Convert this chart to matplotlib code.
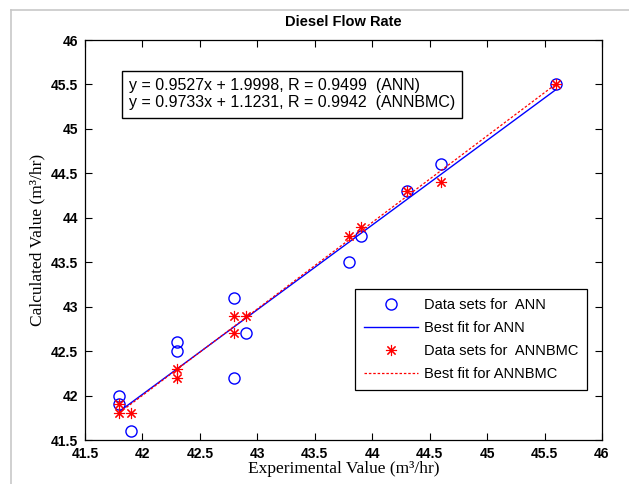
import matplotlib
matplotlib.use("Agg")
import matplotlib.pyplot as plt
from matplotlib.lines import Line2D
import numpy as np

# Experimental vs. calculated diesel flow rate (m^3/hr)
ann_exp = [41.8, 41.8, 41.9, 42.3, 42.3, 42.8, 42.8, 42.9, 43.8, 43.9, 44.3, 44.6, 45.6]
ann_calc = [42.0, 41.9, 41.6, 42.6, 42.5, 43.1, 42.2, 42.7, 43.5, 43.8, 44.3, 44.6, 45.5]

bmc_exp = [41.8, 41.8, 41.9, 42.3, 42.3, 42.8, 42.8, 42.9, 43.8, 43.9, 44.3, 44.6, 45.6]
bmc_calc = [41.9, 41.8, 41.8, 42.3, 42.2, 42.9, 42.7, 42.9, 43.8, 43.9, 44.3, 44.4, 45.5]

# Linear fit coefficients (slope, intercept) and correlation
ann_fit = (0.9527, 1.9998, 0.9499)
bmc_fit = (0.9733, 1.1231, 0.9942)

ticks = [41.5, 42, 42.5, 43, 43.5, 44, 44.5, 45, 45.5, 46]
tick_labels = ["41.5", "42", "42.5", "43", "43.5", "44", "44.5", "45", "45.5", "46"]

sans = "Liberation Sans"
serif = "Liberation Serif"

fig = plt.figure(figsize=(6.29, 4.84), dpi=100)
fig.patch.set_facecolor("white")

# window frame lines
fig.add_artist(Line2D([11 / 629, 11 / 629], [0, 1 - 10 / 484], color="#c8c8c8", lw=1.2,
                      transform=fig.transFigure))
fig.add_artist(Line2D([11 / 629, 1], [1 - 10 / 484, 1 - 10 / 484], color="#c8c8c8", lw=1.2,
                      transform=fig.transFigure))

ax = fig.add_axes([85 / 629, 1 - 440 / 484, (602 - 85) / 629, 400 / 484])

ax.plot(ann_exp, ann_calc, linestyle="none", marker="o", markersize=8,
        markerfacecolor="none", markeredgecolor="#0000ff", markeredgewidth=1.0,
        label="Data sets for  ANN")
xa = np.array([min(ann_exp), max(ann_exp)])
ax.plot(xa, ann_fit[0] * xa + ann_fit[1], color="#0000ff", lw=1.0, label="Best fit for ANN")

ax.plot(bmc_exp, bmc_calc, linestyle="none", marker=(8, 2, 0), markersize=8,
        markeredgecolor="#ff0000", color="#ff0000", markeredgewidth=0.8,
        label="Data sets for  ANNBMC")
xb = np.array([min(bmc_exp), max(bmc_exp)])
ax.plot(xb, bmc_fit[0] * xb + bmc_fit[1], color="#ff0000", lw=0.9, linestyle=(0, (2, 1.5)),
        label="Best fit for ANNBMC")

ax.set_xlim(41.5, 46)
ax.set_ylim(41.5, 46)
ax.set_xticks(ticks)
ax.set_yticks(ticks)
ax.set_xticklabels(tick_labels, fontfamily=sans, fontsize=10, fontweight="bold")
ax.set_yticklabels(tick_labels, fontfamily=sans, fontsize=10, fontweight="bold")
ax.tick_params(direction="in", top=True, right=True, length=5, width=0.8, pad=5)
for s in ax.spines.values():
    s.set_linewidth(0.9)

ax.set_title("Diesel Flow Rate", fontfamily=sans, fontsize=10.5, fontweight="bold", pad=10)
ax.set_xlabel("Experimental Value (m\u00b3/hr)", fontfamily=serif, fontsize=12.5, labelpad=0)
ax.set_ylabel("Calculated Value (m\u00b3/hr)", fontfamily=serif, fontsize=12.5, labelpad=4)

eq_text = ("y = {:.4f}x + {:.4f}, R = {:.4f}  (ANN)\n"
           "y = {:.4f}x + {:.4f}, R = {:.4f}  (ANNBMC)").format(*ann_fit, *bmc_fit)
ax.text(0.085, 0.905, eq_text, transform=ax.transAxes, ha="left", va="top",
        fontfamily=sans, fontsize=11.5, linespacing=1.2,
        bbox=dict(boxstyle="square,pad=0.45", facecolor="white", edgecolor="black", lw=1.0))

leg = ax.legend(loc="lower right", bbox_to_anchor=(0.971, 0.125), borderaxespad=0,
                prop={"family": sans, "size": 10.5}, fancybox=False, framealpha=1,
                edgecolor="black", handlelength=3.7, handletextpad=0.4,
                labelspacing=0.62, borderpad=0.6)
leg.get_frame().set_linewidth(0.9)

fig.savefig("out.png", dpi=100, facecolor="white")
